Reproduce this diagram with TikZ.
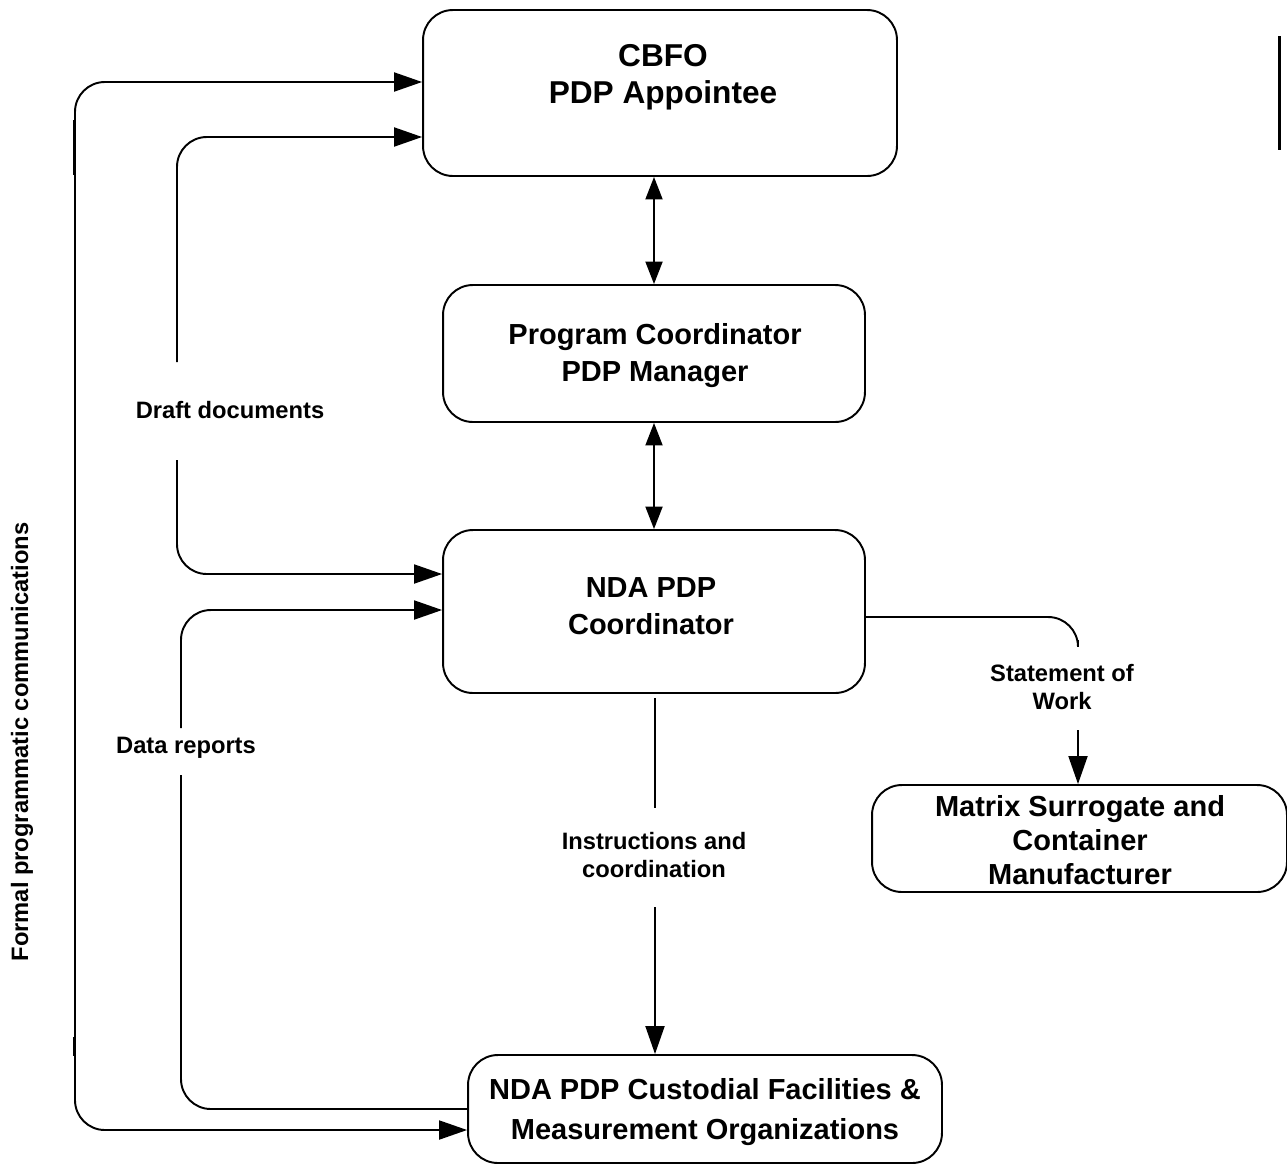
\documentclass[tikz,border=0pt]{standalone}
\usepackage{fontspec}
\setmainfont{Liberation Sans}
\usetikzlibrary{arrows.meta,calc}
\begin{document}
\begin{tikzpicture}[x=0.02cm,y=-0.02cm,
  box/.style={draw,line width=1.1pt,rounded corners=17pt,inner sep=0pt},
  boxtext/.style={font=\bfseries\fontsize{16.5}{21}\selectfont,align=center,inner sep=0pt},
  lbl/.style={font=\bfseries\fontsize{13.5}{16}\selectfont,align=center,inner sep=0pt},
  conn/.style={line width=1.1pt,rounded corners=17pt},
  tip/.style={-{Triangle[length=0.56cm,width=0.38cm]}},
  dtip/.style={{Triangle[length=0.45cm,width=0.34cm]}-{Triangle[length=0.45cm,width=0.34cm]}}
]
\useasboundingbox (0,0) rectangle (1287,1164);
% boxes
\node[box,minimum width=9.48cm,minimum height=3.32cm] (cbfo) at (660,93) {};
\node[box,minimum width=8.44cm,minimum height=2.74cm] (prog) at (654,353.5) {};
\node[box,minimum width=8.44cm,minimum height=3.26cm] (nda) at (654,611.5) {};
\node[box,minimum width=8.3cm,minimum height=2.14cm] (mat) at (1079.5,838.5) {};
\node[box,minimum width=9.48cm,minimum height=2.16cm] (cust) at (705,1109) {};
% box texts
\node[boxtext,font=\bfseries\fontsize{18}{21}\selectfont] (cbfoT) at (663,77) {CBFO\\PDP Appointee};
\node[boxtext] (progT) at (655,356) {Program Coordinator\\PDP Manager};
\node[boxtext] (ndaT) at (651,606) {NDA PDP\\Coordinator};
\node[boxtext,font=\bfseries\fontsize{16.5}{19.3}\selectfont] (matT) at (1080,840) {Matrix Surrogate and\\Container\\Manufacturer};
\node[boxtext,font=\bfseries\fontsize{16.5}{23.2}\selectfont] (custT) at (705,1112) {NDA PDP Custodial Facilities \&\\Measurement Organizations};
% labels
\node[lbl] (draft) at (230,410) {Draft documents};
\node[lbl] (data) at (186,748) {Data reports};
\node[lbl] (instr) at (654,855) {Instructions and\\coordination};
\node[lbl] (sow) at (1062,687) {Statement of\\Work};
\node[lbl,rotate=90] (formal) at (22,742) {Formal programmatic communications};
% free ends
\coordinate (d1) at (177,362);
\coordinate (d2) at (177,460);
\coordinate (r1) at (181,728);
\coordinate (r2) at (181,775);
\coordinate (i1) at (655,698);
\coordinate (i2) at (655,808);
\coordinate (i3) at (655,907);
\coordinate (s1) at (1078,640);
\coordinate (s2) at (1078,730);
\coordinate (f1) at (75,600);
% connectors
\draw[conn,dtip] (prog.north |- cbfo.south) -- (prog.north);
\draw[conn,dtip] (prog.south) -- (nda.north);
\draw[conn] (i1) -- (i2);
\draw[conn,tip] (i3) -- (i3 |- cust.north);
\draw[conn] ($(nda.east)+(0,5.5)$) -| (s1);
\draw[conn,tip] (s2) -- (s2 |- mat.north);
\draw[conn,tip] (d1) |- ($(cbfo.west)+(0,44)$);
\draw[conn,tip] (d2) |- ($(nda.west)+(0,-37.5)$);
\draw[conn] (cust.west) -| (r2);
\draw[conn,tip] (r1) |- ($(nda.west)+(0,-1.5)$);
\draw[conn,tip] (f1) |- ($(cbfo.west)+(0,-11)$);
\draw[conn,tip] (f1) |- ($(cust.west)+(0,21)$);
% small thicker bits on the left line
\draw[line width=1.6pt] (74,120) -- (74,175);
\draw[line width=1.6pt] (74,1037) -- (74,1056);
% right bar
\draw[line width=1.7pt] (1279,36) -- (1279,150);
\end{tikzpicture}
\end{document}
